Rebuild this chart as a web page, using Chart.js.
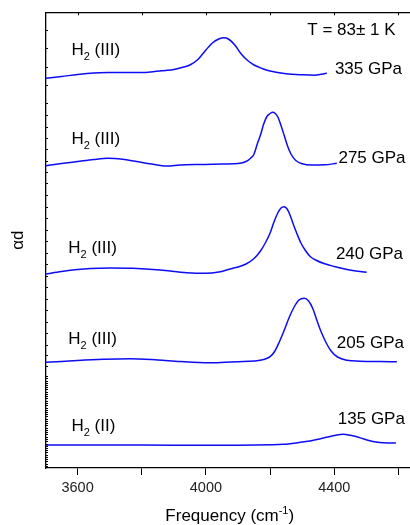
<!DOCTYPE html>
<html>
<head>
<meta charset="utf-8">
<script src="https://cdn.jsdelivr.net/npm/chart.js@4"></script>
<style>
html, body { margin: 0; padding: 0; background: #fff; overflow: hidden; }
#wrap { width: 410px; height: 525px; position: relative; }
</style>
</head>
<body>
<div id="wrap"><canvas id="c"></canvas></div>
<script>
// spectra, offset as plotted (x: frequency in cm-1, y: alpha*d, arbitrary units)
const f335 = [3500, 3550, 3600, 3650, 3700, 3750, 3800, 3840, 3875, 3900, 3925, 3950, 3975, 4000, 4020, 4040, 4056, 4070, 4090, 4110, 4130, 4150, 4175, 4200, 4250, 4300, 4340, 4377];
const v335 = [3.907, 3.925, 3.945, 3.96, 3.965, 3.966, 3.965, 3.975, 3.985, 3.995, 4.015, 4.04, 4.095, 4.19, 4.26, 4.30, 4.313, 4.30, 4.24, 4.15, 4.085, 4.04, 4.005, 3.98, 3.953, 3.942, 3.938, 3.957];

const f275 = [3500, 3550, 3600, 3650, 3695, 3740, 3780, 3830, 3877, 3920, 3970, 4020, 4060, 4100, 4125, 4140, 4150, 4160, 4170, 4180, 4190, 4200, 4208, 4216, 4225, 4235, 4245, 4255, 4265, 4280, 4300, 4330, 4370, 4408];
const v275 = [3.033, 3.055, 3.075, 3.095, 3.107, 3.097, 3.077, 3.05, 3.03, 3.04, 3.045, 3.047, 3.05, 3.055, 3.075, 3.11, 3.15, 3.25, 3.34, 3.45, 3.525, 3.555, 3.567, 3.555, 3.515, 3.425, 3.325, 3.225, 3.15, 3.085, 3.052, 3.04, 3.042, 3.057];

const f240 = [3500, 3550, 3600, 3640, 3700, 3772, 3857, 3940, 4000, 4040, 4075, 4100, 4125, 4150, 4170, 4185, 4200, 4212, 4224, 4234, 4243, 4252, 4262, 4272, 4284, 4296, 4310, 4325, 4345, 4370, 4400, 4440, 4501];
const v240 = [1.95, 1.975, 1.995, 2.005, 2.01, 2.007, 1.99, 1.963, 1.957, 1.97, 2.00, 2.02, 2.05, 2.105, 2.18, 2.26, 2.36, 2.47, 2.56, 2.61, 2.623, 2.605, 2.54, 2.45, 2.35, 2.26, 2.185, 2.125, 2.085, 2.052, 2.025, 1.995, 1.967];

const f205 = [3500, 3550, 3600, 3680, 3763, 3850, 3919, 4012, 4060, 4100, 4150, 4180, 4200, 4215, 4230, 4245, 4260, 4275, 4290, 4306, 4320, 4333, 4346, 4360, 4375, 4390, 4410, 4440, 4480, 4540, 4595];
const v205 = [1.067, 1.075, 1.085, 1.097, 1.103, 1.09, 1.075, 1.063, 1.068, 1.073, 1.08, 1.095, 1.123, 1.18, 1.28, 1.395, 1.52, 1.62, 1.69, 1.707, 1.68, 1.605, 1.485, 1.365, 1.26, 1.18, 1.12, 1.087, 1.078, 1.074, 1.073];

const f135 = [3500, 3700, 3900, 4100, 4200, 4241, 4290, 4324, 4350, 4376, 4400, 4428, 4450, 4470, 4490, 4511, 4530, 4553, 4592];
const v135 = [0.24, 0.24, 0.238, 0.238, 0.242, 0.247, 0.265, 0.28, 0.297, 0.317, 0.335, 0.347, 0.337, 0.323, 0.302, 0.283, 0.271, 0.263, 0.26];

// x ticks (labelled every 400)
const xTicks = [3600, 3800, 4000, 4200, 4400, 4600];
const xLabels = ['3600', '', '4000', '', '4400', ''];

// small inward ticks on the left axis
const yTicksSparse = [4.39, 4.207, 4.023, 3.84, 3.657, 3.54, 3.423, 3.31, 3.197, 3.083, 2.97, 2.857, 2.74, 2.625, 2.51, 2.395, 2.28, 2.165, 2.05, 1.935, 1.82, 1.705, 1.59, 1.475, 1.36, 1.245, 1.14, 1.03];

// annotations
const phaseText = ['(III)', '(III)', '(III)', '(III)', '(II)'];
const phaseX = [3581, 3581, 3571, 3571, 3581];
const phaseY = [4.14, 3.25, 2.163, 1.247, 0.38];
const pressText = ['335 GPa', '275 GPa', '240 GPa', '205 GPa', '135 GPa'];
const pressX = [4402, 4413, 4405, 4408, 4411];
const pressY = [3.95, 3.057, 2.10, 1.207, 0.447];
const tempText = 'T = 83\u00b1 1 K';

const FONT = 'Arial, "Liberation Sans", sans-serif';
const BLUE = 'rgb(12,12,245)';

function pts(f, v) { return f.map((x, i) => ({x: x, y: v[i]})); }
function series(f, v) {
  return {data: pts(f, v), borderColor: BLUE, borderWidth: 1.5, pointRadius: 0,
          cubicInterpolationMode: 'monotone', fill: false};
}

function drawParts(ctx, parts, x, y) {
  let cx = x;
  parts.forEach(p => {
    ctx.font = p.s + 'px ' + FONT;
    ctx.fillText(p.t, cx, y + (p.dy || 0));
    cx += ctx.measureText(p.t).width;
  });
  return cx - x;
}
function partsWidth(ctx, parts) {
  let w = 0;
  parts.forEach(p => { ctx.font = p.s + 'px ' + FONT; w += ctx.measureText(p.t).width; });
  return w;
}

const decor = {
  id: 'decor',
  afterDraw(chart) {
    const {ctx, chartArea: a, scales: {x, y}} = chart;
    ctx.save();
    ctx.strokeStyle = '#000';
    ctx.lineWidth = 1;
    ctx.beginPath();
    y.ticks.forEach(t => {
      const py = Math.round(y.getPixelForValue(t.value)) + 0.5;
      ctx.moveTo(a.left, py); ctx.lineTo(a.left + 2.5, py);
    });
    x.ticks.forEach(t => {
      const px = Math.round(x.getPixelForValue(t.value)) + 0.5;
      ctx.moveTo(px, a.top); ctx.lineTo(px, a.top + 3);
    });
    ctx.stroke();

    ctx.fillStyle = '#000';
    ctx.textAlign = 'left';
    ctx.textBaseline = 'alphabetic';
    phaseText.forEach((t, i) => {
      drawParts(ctx, [{t: 'H', s: 17}, {t: '2', s: 11, dy: 5}, {t: ' ' + t, s: 17}],
        x.getPixelForValue(phaseX[i]), y.getPixelForValue(phaseY[i]));
    });
    ctx.font = '17px ' + FONT;
    pressText.forEach((t, i) => {
      ctx.fillText(t, x.getPixelForValue(pressX[i]), y.getPixelForValue(pressY[i]));
    });
    ctx.fillText(tempText, x.getPixelForValue(4316), y.getPixelForValue(4.34));

    // x axis title with superscript
    const title = [{t: 'Frequency (cm', s: 17}, {t: '-1', s: 11, dy: -7}, {t: ')', s: 17}];
    const w = partsWidth(ctx, title);
    drawParts(ctx, title, (a.left + a.right) / 2 + 2 - w / 2, a.bottom + 53);
    ctx.restore();
  }
};

new Chart(document.getElementById('c'), {
  type: 'line',
  data: {
    datasets: [series(f335, v335), series(f275, v275), series(f240, v240), series(f205, v205), series(f135, v135)]
  },
  options: {
    responsive: true,
    maintainAspectRatio: false,
    animation: false,
    events: [],
    layout: {padding: 0},
    plugins: {legend: {display: false}, tooltip: {enabled: false}},
    scales: {
      x: {
        type: 'linear',
        position: 'bottom',
        min: 3500,
        max: 4636,
        afterBuildTicks: s => { s.ticks = xTicks.map(v => ({value: v})); },
        afterFit: s => { s.height = 57; },
        ticks: {
          color: '#222',
          font: {family: FONT, size: 14.5},
          padding: 4,
          maxRotation: 0,
          autoSkip: false,
          callback: (v) => xLabels[xTicks.indexOf(v)]
        },
        grid: {drawOnChartArea: false, drawTicks: true, tickLength: 7, color: '#000', lineWidth: 1},
        border: {display: true, color: '#000', width: 1.3}
      },
      x2: {
        type: 'linear',
        position: 'top',
        afterFit: s => { s.height = 12.3; },
        ticks: {display: false},
        grid: {display: false},
        border: {display: true, color: '#000', width: 1.3}
      },
      y: {
        type: 'linear',
        min: 0.01,
        max: 4.567,
        afterBuildTicks: s => {
          const t = yTicksSparse.slice();
          for (let v = 0.93; v > 0.02; v -= 0.0225) t.push(v);
          s.ticks = t.map(v => ({value: v}));
        },
        afterFit: s => { s.width = 45.5; },
        ticks: {display: false},
        grid: {display: false},
        border: {display: true, color: '#000', width: 1.3},
        title: {display: true, text: '\u03b1d', color: '#000', font: {family: FONT, size: 17}, padding: {top: 8, bottom: 0}}
      }
    }
  },
  plugins: [decor]
});
</script>
</body>
</html>
